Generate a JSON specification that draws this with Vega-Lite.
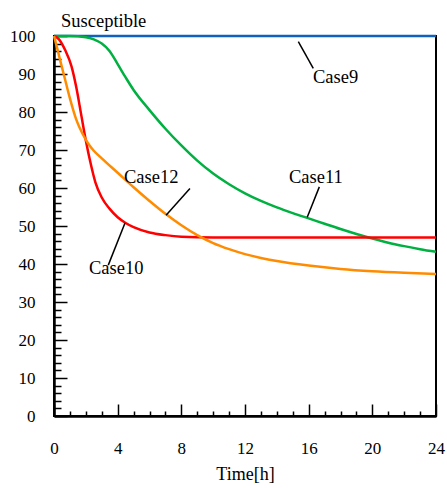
{
  "$schema": "https://vega.github.io/schema/vega-lite/v6.json",
  "autosize": "none",
  "width": 382,
  "height": 380,
  "padding": {"left": 54, "top": 36, "right": 11, "bottom": 72},
  "background": "white",
  "config": {
    "view": {"stroke": "black", "strokeWidth": 2},
    "font": "Liberation Serif",
    "axis": {
      "labelFont": "Liberation Serif",
      "labelFontSize": 17,
      "labelColor": "black",
      "titleFont": "Liberation Serif",
      "titleFontSize": 18,
      "titleFontWeight": "normal",
      "titleColor": "black",
      "domainColor": "black",
      "domainWidth": 2.5,
      "tickColor": "black",
      "tickWidth": 1.5,
      "grid": false
    }
  },
  "datasets": {
    "curves": [
      {"Case": "Case9", "t": 0, "S": 100},
      {"Case": "Case9", "t": 24, "S": 100},

      {"Case": "Case11", "t": 0, "S": 100},
      {"Case": "Case11", "t": 1, "S": 100},
      {"Case": "Case11", "t": 2, "S": 99.7},
      {"Case": "Case11", "t": 2.5, "S": 99.1},
      {"Case": "Case11", "t": 3, "S": 98.0},
      {"Case": "Case11", "t": 3.5, "S": 96.0},
      {"Case": "Case11", "t": 4, "S": 92.6},
      {"Case": "Case11", "t": 4.5, "S": 89.1},
      {"Case": "Case11", "t": 5, "S": 85.8},
      {"Case": "Case11", "t": 6, "S": 80.5},
      {"Case": "Case11", "t": 7, "S": 75.6},
      {"Case": "Case11", "t": 8, "S": 71.2},
      {"Case": "Case11", "t": 9, "S": 67.2},
      {"Case": "Case11", "t": 10, "S": 63.8},
      {"Case": "Case11", "t": 11, "S": 61.0},
      {"Case": "Case11", "t": 12, "S": 58.6},
      {"Case": "Case11", "t": 13, "S": 56.6},
      {"Case": "Case11", "t": 14, "S": 54.9},
      {"Case": "Case11", "t": 15, "S": 53.4},
      {"Case": "Case11", "t": 16, "S": 52.0},
      {"Case": "Case11", "t": 17, "S": 50.6},
      {"Case": "Case11", "t": 18, "S": 49.2},
      {"Case": "Case11", "t": 19, "S": 47.9},
      {"Case": "Case11", "t": 20, "S": 46.7},
      {"Case": "Case11", "t": 21, "S": 45.6},
      {"Case": "Case11", "t": 22, "S": 44.7},
      {"Case": "Case11", "t": 23, "S": 43.9},
      {"Case": "Case11", "t": 24, "S": 43.2},

      {"Case": "Case10", "t": 0, "S": 100},
      {"Case": "Case10", "t": 0.3, "S": 99.2},
      {"Case": "Case10", "t": 0.7, "S": 96.3},
      {"Case": "Case10", "t": 1.1, "S": 92.0},
      {"Case": "Case10", "t": 1.4, "S": 86.5},
      {"Case": "Case10", "t": 1.7, "S": 79.5},
      {"Case": "Case10", "t": 2.0, "S": 72.5},
      {"Case": "Case10", "t": 2.3, "S": 66.5},
      {"Case": "Case10", "t": 2.6, "S": 61.5},
      {"Case": "Case10", "t": 3.0, "S": 57.5},
      {"Case": "Case10", "t": 3.5, "S": 54.5},
      {"Case": "Case10", "t": 4.0, "S": 52.3},
      {"Case": "Case10", "t": 4.5, "S": 50.8},
      {"Case": "Case10", "t": 5.0, "S": 49.7},
      {"Case": "Case10", "t": 6.0, "S": 48.3},
      {"Case": "Case10", "t": 7.0, "S": 47.6},
      {"Case": "Case10", "t": 8.0, "S": 47.2},
      {"Case": "Case10", "t": 10, "S": 47.0},
      {"Case": "Case10", "t": 24, "S": 47.0},

      {"Case": "Case12", "t": 0, "S": 100},
      {"Case": "Case12", "t": 0.2, "S": 96.8},
      {"Case": "Case12", "t": 0.4, "S": 93.4},
      {"Case": "Case12", "t": 0.7, "S": 88.5},
      {"Case": "Case12", "t": 1.0, "S": 83.6},
      {"Case": "Case12", "t": 1.4, "S": 78.0},
      {"Case": "Case12", "t": 1.8, "S": 74.2},
      {"Case": "Case12", "t": 2.2, "S": 71.4},
      {"Case": "Case12", "t": 2.5, "S": 69.8},
      {"Case": "Case12", "t": 3, "S": 67.8},
      {"Case": "Case12", "t": 4, "S": 64.0},
      {"Case": "Case12", "t": 5, "S": 60.2},
      {"Case": "Case12", "t": 6, "S": 56.6},
      {"Case": "Case12", "t": 7, "S": 53.2},
      {"Case": "Case12", "t": 8, "S": 50.2},
      {"Case": "Case12", "t": 9, "S": 47.6},
      {"Case": "Case12", "t": 10, "S": 45.5},
      {"Case": "Case12", "t": 11, "S": 43.9},
      {"Case": "Case12", "t": 12, "S": 42.6},
      {"Case": "Case12", "t": 13, "S": 41.6},
      {"Case": "Case12", "t": 14, "S": 40.8},
      {"Case": "Case12", "t": 16, "S": 39.6},
      {"Case": "Case12", "t": 18, "S": 38.7},
      {"Case": "Case12", "t": 20, "S": 38.1},
      {"Case": "Case12", "t": 22, "S": 37.7},
      {"Case": "Case12", "t": 24, "S": 37.4}
    ],
    "leaders": [
      {"Case": "Case9", "t1": 15.35, "s1": 98.5, "t2": 16.29, "s2": 91.5},
      {"Case": "Case11", "t1": 16.67, "s1": 60.3, "t2": 15.91, "s2": 52.3},
      {"Case": "Case12", "t1": 8.54, "s1": 59.9, "t2": 7.04, "s2": 52.8},
      {"Case": "Case10", "t1": 4.46, "s1": 50.8, "t2": 3.41, "s2": 39.7}
    ],
    "labels": [
      {"text": "Susceptible", "t": 0.44, "S": 102.4},
      {"text": "Case9", "t": 16.27, "S": 87.6},
      {"text": "Case11", "t": 14.76, "S": 61.2},
      {"text": "Case12", "t": 4.4, "S": 61.2},
      {"text": "Case10", "t": 2.2, "S": 37.4}
    ]
  },
  "layer": [
    {
      "data": {"name": "curves"},
      "mark": {"type": "line", "interpolate": "monotone", "strokeWidth": 2.5, "clip": false},
      "encoding": {
        "x": {
          "field": "t",
          "type": "quantitative",
          "scale": {"domain": [0, 24], "nice": false, "zero": false},
          "axis": {
            "title": "Time[h]",
            "values": [0,1,2,3,4,5,6,7,8,9,10,11,12,13,14,15,16,17,18,19,20,21,22,23,24],
            "tickCount": 500,
            "format": "d",
            "labelExpr": "datum.value % 4 === 0 ? datum.label : ''",
            "tickSize": {"condition": {"test": "datum.value % 4 === 0", "value": -12}, "value": -5},
            "labelPadding": 36,
            "labelFlush": false,
            "labelOverlap": false,
            "titlePadding": 2
          }
        },
        "y": {
          "field": "S",
          "type": "quantitative",
          "scale": {"domain": [0, 100], "nice": false},
          "axis": {
            "title": null,
            "values": [0,2,4,6,8,10,12,14,16,18,20,22,24,26,28,30,32,34,36,38,40,42,44,46,48,50,52,54,56,58,60,62,64,66,68,70,72,74,76,78,80,82,84,86,88,90,92,94,96,98,100],
            "tickCount": 500,
            "format": "d",
            "labelExpr": "datum.value % 10 === 0 ? datum.label : ''",
            "tickSize": {"condition": {"test": "datum.value % 10 === 0", "value": -13}, "value": -7},
            "labelPadding": 32,
            "labelFlush": false,
            "labelOverlap": false
          }
        },
        "color": {
          "field": "Case",
          "type": "nominal",
          "scale": {
            "domain": ["Case9", "Case10", "Case11", "Case12"],
            "range": ["#1060c0", "#ff0000", "#00b040", "#ff8c00"]
          },
          "legend": null
        }
      }
    },
    {
      "data": {"name": "leaders"},
      "mark": {"type": "rule", "color": "black", "strokeWidth": 1.5},
      "encoding": {
        "x": {"field": "t1", "type": "quantitative"},
        "y": {"field": "s1", "type": "quantitative"},
        "x2": {"field": "t2"},
        "y2": {"field": "s2"}
      }
    },
    {
      "data": {"name": "labels"},
      "mark": {"type": "text", "font": "Liberation Serif", "fontSize": 18.5, "align": "left", "baseline": "alphabetic", "color": "black", "clip": false},
      "encoding": {
        "x": {"field": "t", "type": "quantitative"},
        "y": {"field": "S", "type": "quantitative"},
        "text": {"field": "text"}
      }
    }
  ]
}
